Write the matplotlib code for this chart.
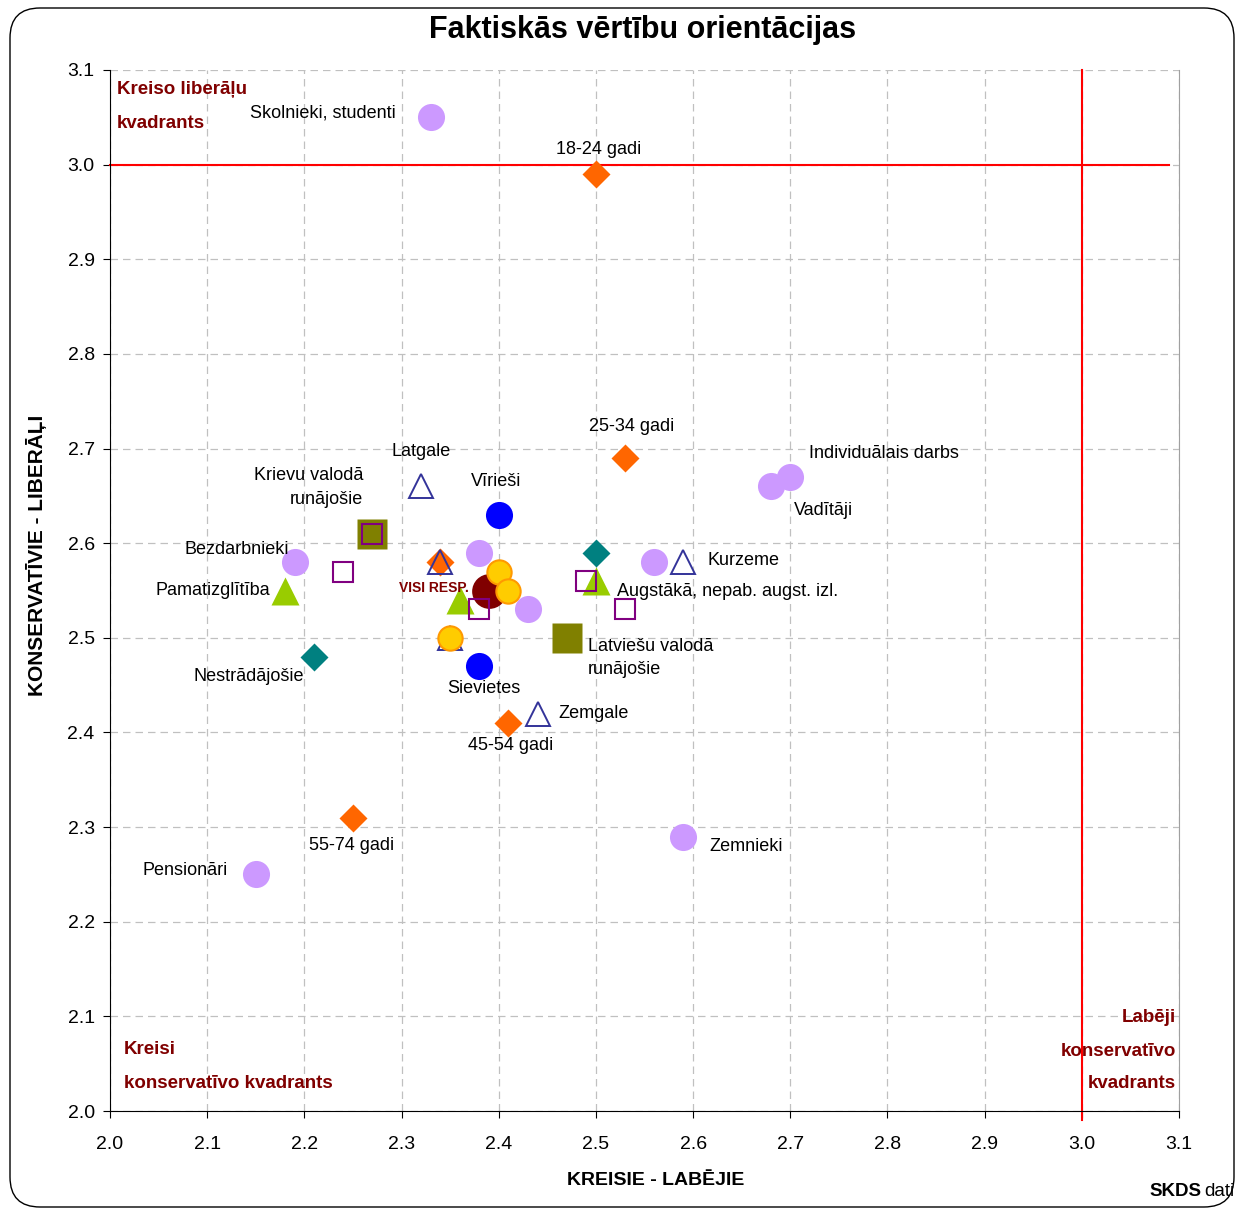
"""Faktiskās vērtību orientācijas — SKDS scatter of left/right vs conservative/liberal."""

import matplotlib
matplotlib.use("Agg")
import matplotlib.pyplot as plt
from matplotlib.patches import FancyBboxPatch

plt.rcParams["font.family"] = ["Liberation Sans", "DejaVu Sans"]

# --- data ------------------------------------------------------------------
occ_x = [2.33, 2.70, 2.68, 2.19, 2.15, 2.59, 2.38, 2.43, 2.56]
occ_y = [3.05, 2.67, 2.66, 2.58, 2.25, 2.29, 2.59, 2.53, 2.58]
occ_labels = ["Skolnieki, studenti", "Individuālais darbs", "Vadītāji", "Bezdarbnieki",
              "Pensionāri", "Zemnieki", "", "", ""]

age_x = [2.50, 2.53, 2.34, 2.41, 2.25]
age_y = [2.99, 2.69, 2.58, 2.41, 2.31]
age_labels = ["18-24 gadi", "25-34 gadi", "", "45-54 gadi", "55-74 gadi"]

region_x = [2.32, 2.34, 2.35, 2.59, 2.44]
region_y = [2.66, 2.58, 2.50, 2.58, 2.42]
region_labels = ["Latgale", "", "", "Kurzeme", "Zemgale"]

work_x = [2.50, 2.21]
work_y = [2.59, 2.48]
work_labels = ["", "Nestrādājošie"]

gender_x = [2.40, 2.38]
gender_y = [2.63, 2.47]
gender_labels = ["Vīrieši", "Sievietes"]

edu_x = [2.18, 2.36, 2.50]
edu_y = [2.55, 2.54, 2.56]
edu_labels = ["Pamatizglītība", "", "Augstākā, nepab. augst. izl."]

all_x = [2.39]
all_y = [2.55]
all_labels = ["VISI RESP."]

income_x = [2.40, 2.41, 2.35]
income_y = [2.57, 2.55, 2.50]

lang_x = [2.27, 2.47]
lang_y = [2.61, 2.50]
lang_labels = ["Krievu valodā\nrunājošie", "Latviešu valodā\nrunājošie"]

other_x = [2.27, 2.24, 2.38, 2.49, 2.53]
other_y = [2.61, 2.57, 2.53, 2.56, 2.53]

ticks = [2.0, 2.1, 2.2, 2.3, 2.4, 2.5, 2.6, 2.7, 2.8, 2.9, 3.0, 3.1]
divider = 3.0

# label offsets in pixels (dx, dy, ha) per named label
label_pos = {
    "Skolnieki, studenti": (-35, 4, "right"),
    "18-24 gadi": (3, 25, "center"),
    "25-34 gadi": (7, 32, "center"),
    "Individuālais darbs": (19, 23, "left"),
    "Vadītāji": (23, -24, "left"),
    "Latgale": (0, 35, "center"),
    "Vīrieši": (-3, 33, "center"),
    "Krievu valodā\nrunājošie": (-9, 46, "right"),
    "Bezdarbnieki": (-6, 13, "right"),
    "Pamatizglītība": (-15, 0, "right"),
    "Nestrādājošie": (-10, -20, "right"),
    "Sievietes": (5, -22, "center"),
    "Kurzeme": (24, 2, "left"),
    "Augstākā, nepab. augst. izl.": (21, -10, "left"),
    "Latviešu valodā\nrunājošie": (21, -20, "left"),
    "Zemgale": (21, 0, "left"),
    "45-54 gadi": (2, -23, "center"),
    "55-74 gadi": (-1, -28, "center"),
    "Pensionāri": (-28, 4, "right"),
    "Zemnieki": (26, -10, "left"),
}

DARK_RED = "#800000"

fig = plt.figure(figsize=(12.39, 12.09), dpi=100)
ax = fig.add_axes([110 / 1239, 1 - 1111 / 1209, 1069 / 1239, 1041 / 1209])

# rounded outer frame
fig.patches.append(FancyBboxPatch((0.10, 0.02), 12.24, 11.99,
                                  boxstyle="round,pad=0,rounding_size=0.3",
                                  transform=fig.dpi_scale_trans, fill=False,
                                  edgecolor="black", linewidth=1.0))

ax.set_xlim(2.0, 3.1)
ax.set_ylim(2.0, 3.1)
ax.set_xticks(ticks)
ax.set_yticks(ticks)
ax.set_xticklabels([f"{t:.1f}" for t in ticks])
ax.set_yticklabels([f"{t:.1f}" for t in ticks])
ax.tick_params(axis="x", direction="out", length=5, pad=13, labelsize=14)
ax.tick_params(axis="y", direction="out", length=5, pad=6, labelsize=14)
ax.grid(True, color="#C0C0C0", linestyle=(0, (6, 4)), linewidth=0.9)
ax.set_axisbelow(True)
ax.spines["top"].set_visible(False)
ax.spines["right"].set_color("#A0A0A0")
ax.spines["left"].set_color("black")
ax.spines["bottom"].set_color("black")

# red quadrant dividers
ax.plot([2.0, 3.09], [divider, divider], color="#FF0000", lw=1.5, zorder=2, clip_on=False)
ax.plot([divider, divider], [1.99, 3.1], color="#FF0000", lw=1.5, zorder=2, clip_on=False)

# series
ax.plot(occ_x, occ_y, "o", ms=19.5, color="#CC99FF", mec="none", zorder=3)
ax.plot(age_x, age_y, "D", ms=14.3, color="#FF6600", mec="none", zorder=3)
ax.plot(region_x, region_y, "^", ms=17, mfc="none", mec="#333399", mew=1.4, zorder=4)
ax.plot(work_x, work_y, "D", ms=14.5, color="#008080", mec="none", zorder=3)
ax.plot(gender_x, gender_y, "o", ms=19.5, color="#0000FF", mec="none", zorder=3)
ax.plot(edu_x, edu_y, "^", ms=20, color="#99CC00", mec="none", zorder=4)
ax.plot(all_x, all_y, "o", ms=25, color=DARK_RED, mec="none", zorder=5)
ax.plot(income_x, income_y, "o", ms=17.5, color="#FFCC00", mec="#FF9900", mew=1.5, zorder=6)
ax.plot(lang_x, lang_y, "s", ms=21, color="#808000", mec="none", zorder=5)
ax.plot(other_x, other_y, "s", ms=15, mfc="none", mec="#800080", mew=1.5, zorder=7)

# point labels
series = [(occ_x, occ_y, occ_labels), (age_x, age_y, age_labels),
          (region_x, region_y, region_labels), (work_x, work_y, work_labels),
          (gender_x, gender_y, gender_labels), (edu_x, edu_y, edu_labels),
          (lang_x, lang_y, lang_labels)]
for xs, ys, labels in series:
    for x, y, lab in zip(xs, ys, labels):
        if not lab:
            continue
        dx, dy, ha = label_pos[lab]
        ax.annotate(lab, (x, y), xytext=(dx, dy), textcoords="offset pixels",
                    ha=ha, va="center", fontsize=13, color="black",
                    multialignment=ha, linespacing=1.5, zorder=8)

ax.annotate(all_labels[0], (all_x[0], all_y[0]), xytext=(-20, 3),
            textcoords="offset pixels", ha="right", va="center", fontsize=10,
            fontweight="bold", color=DARK_RED, zorder=8)

# quadrant captions
qkw = dict(transform=ax.transAxes, fontsize=13.5, fontweight="bold", color=DARK_RED,
           va="center")
ax.text(7 / 1069, 1 - 20 / 1041, "Kreiso liberāļu", ha="left", **qkw)
ax.text(7 / 1069, 1 - 53 / 1041, "kvadrants", ha="left", **qkw)
ax.text(14 / 1069, 61 / 1041, "Kreisi", ha="left", **qkw)
ax.text(14 / 1069, 28 / 1041, "konservatīvo kvadrants", ha="left", **qkw)
ax.text(1066 / 1069, 93 / 1041, "Labēji", ha="right", **qkw)
ax.text(1066 / 1069, 60 / 1041, "konservatīvo", ha="right", **qkw)
ax.text(1066 / 1069, 28 / 1041, "kvadrants", ha="right", **qkw)

# axis titles
ax.set_xlabel("KREISIE - LABĒJIE", fontsize=14, fontweight="bold")
ax.xaxis.set_label_coords(546 / 1069, -61 / 1041)
ax.set_ylabel("KONSERVATĪVIE - LIBERĀĻI", fontsize=15, fontweight="bold")
ax.yaxis.set_label_coords(-63 / 1069, 0.534)

fig.text(643 / 1239, 1 - 30 / 1209, "Faktiskās vērtību orientācijas", ha="center",
         va="center", fontsize=22, fontweight="bold")
fig.text(1201 / 1239, 1 - 1192 / 1209, "SKDS", ha="right", va="center",
         fontsize=13.5, fontweight="bold")
fig.text(1204 / 1239, 1 - 1192 / 1209, "dati", ha="left", va="center", fontsize=13.5)

fig.savefig("out.png", dpi=100)
